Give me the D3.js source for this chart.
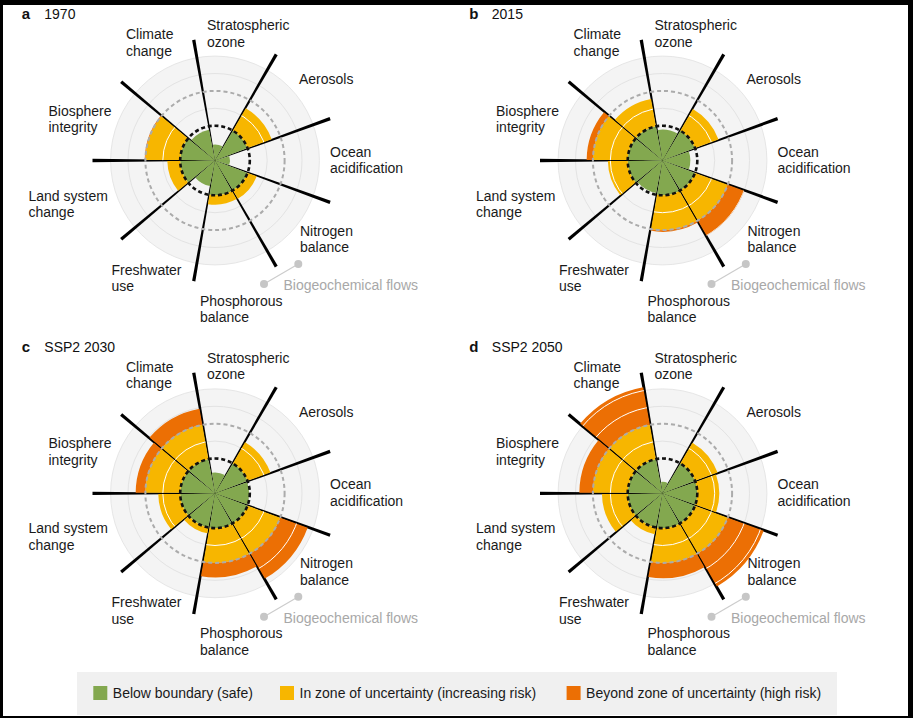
<!DOCTYPE html>
<html><head><meta charset="utf-8">
<script src="https://cdn.jsdelivr.net/npm/d3@7"></script>
<style>body{margin:0;background:#fff}svg{display:block}text{font-family:"Liberation Sans",Arial,Helvetica,sans-serif}</style>
</head><body>
<script>
// ---- data ----
const categories = ["Stratospheric ozone","Aerosols","Ocean acidification","Nitrogen balance","Phosphorous balance","Freshwater use","Land system change","Biosphere integrity","Climate change"];
const categoryLines = [["Stratospheric","ozone"],["Aerosols"],["Ocean","acidification"],["Nitrogen","balance"],["Phosphorous","balance"],["Freshwater","use"],["Land system","change"],["Biosphere","integrity"],["Climate","change"]];
const panelLetters = ["a","b","c","d"];
const panelTitles = ["1970","2015","SSP2 2030","SSP2 2050"];
// values normalised: 1 = boundary, 2 = upper end of zone of uncertainty
const values1970 = [0.46, 1.74, 0.43, 1.28, 1.27, 0.75, 1.37, 2.02, 0.90];
const values2015 = [0.89, 1.72, 0.80, 2.50, 2.05, 0.95, 1.57, 2.18, 1.80];
const values2030 = [0.60, 1.70, 0.98, 2.84, 2.42, 1.17, 1.63, 2.28, 2.47];
const values2050 = [0.33, 1.69, 1.63, 3.10, 2.44, 1.20, 1.74, 2.39, 3.10];
const seriesValues = [values1970, values2015, values2030, values2050];
const legendLabels = ["Below boundary (safe)","In zone of uncertainty (increasing risk)","Beyond zone of uncertainty (high risk)"];
const annotationLabel = "Biogeochemical flows";

// ---- layout ----
const W = 913, H = 718;
const colors = ["#83a84f","#f7b600","#ec6f04"];
const centers = [[215,160.5],[662.5,160.5],[215,493.3],[662.5,493.3]];
const labelPos = [[-8,-130.5],[84,-76.5],[115,-4],[85,75],[-15,145],[-103.5,114],[-186.5,40],[-166.5,-45],[-89,-121.5]];
const lineH = 16.6;

const svg = d3.select("body").append("svg").attr("width",W).attr("height",H);
svg.append("rect").attr("width",W).attr("height",H).attr("fill","#000");
svg.append("rect").attr("x",3).attr("y",5).attr("width",905).attr("height",711).attr("fill","#fff");

const r = d3.scaleLinear().domain([0,3]).range([0,104.4]);
const ang = d3.scaleLinear().domain([0,categories.length]).range([-10*Math.PI/180, 350*Math.PI/180]);

seriesValues.forEach((vals, p) => {
  const [cx, cy] = centers[p];
  const g = svg.append("g").attr("transform",`translate(${cx},${cy})`);
  // background disc and rings
  g.append("circle").attr("r", r(3)).attr("fill","#f4f4f4").attr("stroke","#e6e6e6").attr("stroke-width",1);
  [1.5,2.5].forEach(t => g.append("circle").attr("r", r(t)).attr("fill","none").attr("stroke","#e3e3e3").attr("stroke-width",1));
  // radial separator lines (tapered)
  d3.range(categories.length).forEach(k => {
    const a = ang(k), L = r(3.52);
    const ux = Math.sin(a), uy = -Math.cos(a), px = -uy, py = ux;
    const w0 = 0.35, w1 = 1.65;
    const pts = [[px*w0, py*w0],[L*ux + px*w1, L*uy + py*w1],[L*ux - px*w1, L*uy - py*w1],[-px*w0, -py*w0]];
    g.append("path").attr("d", d3.line()(pts) + "Z").attr("fill","#000");
  });
  // wedges
  const arc = d3.arc().padAngle(0.012).padRadius(100);
  const bands = [];
  vals.forEach((v,i) => {
    bands.push({i, from:0, to:Math.min(v,1), c:0});
    if (v > 1) bands.push({i, from:1, to:Math.min(v,2), c:1});
    if (v > 2) bands.push({i, from:2, to:v, c:2});
  });
  g.selectAll("path.band").data(bands).join("path").attr("class","band")
    .attr("d", d => arc({innerRadius:r(d.from), outerRadius:r(d.to), startAngle:ang(d.i), endAngle:ang(d.i+1)}))
    .attr("fill", d => colors[d.c]);
  // white rings within data
  const clipId = "clip"+p;
  g.append("clipPath").attr("id",clipId).selectAll("path").data(vals).join("path")
    .attr("d",(v,i) => arc({innerRadius:0, outerRadius:r(v), startAngle:ang(i), endAngle:ang(i+1)}));
  const wr = g.append("g").attr("clip-path",`url(#${clipId})`);
  [1.5,2.5,3].forEach(t => wr.append("circle").attr("r", r(t)).attr("fill","none").attr("stroke","#fff").attr("stroke-width",1));
  // dashed circles
  g.append("circle").attr("r", r(2)).attr("fill","none").attr("stroke","#ababab").attr("stroke-width",2).attr("stroke-dasharray","4,3");
  g.append("circle").attr("r", r(1)).attr("fill","none").attr("stroke","#111").attr("stroke-width",2.6).attr("stroke-dasharray","4,2.8");
  // labels
  categoryLines.forEach((lines,i) => {
    const t = g.append("text").attr("x",labelPos[i][0]).attr("y",labelPos[i][1])
      .attr("font-size",14).attr("fill","#1a1a1a");
    lines.forEach((s,j) => t.append("tspan").attr("x",labelPos[i][0]).attr("dy", j===0?0:lineH).text(s));
  });
  // annotation
  g.append("line").attr("x1",49).attr("y1",123.5).attr("x2",83.3).attr("y2",103.5).attr("stroke","#cccccc").attr("stroke-width",1.2);
  g.append("circle").attr("cx",83.3).attr("cy",103.5).attr("r",4).attr("fill","#c6c6c6");
  g.append("circle").attr("cx",49).attr("cy",123.5).attr("r",4).attr("fill","#c6c6c6");
  g.append("text").attr("x",68.5).attr("y",129.5).attr("font-size",14).attr("fill","#a8a8a8").text(annotationLabel);
  // title
  const tx = cx - 193.3, ty = cy - 141.2;
  svg.append("text").attr("x",tx).attr("y",ty).attr("font-size",15).attr("font-weight","bold").attr("fill","#111").text(panelLetters[p]);
  svg.append("text").attr("x",tx+22.6).attr("y",ty).attr("font-size",14).attr("fill","#111").text(panelTitles[p]);
});

// legend
const lg = svg.append("g");
lg.append("rect").attr("x",77).attr("y",672).attr("width",760).attr("height",43).attr("fill","#f0f0f0");
const legX = [93.3, 280, 566.6];
legendLabels.forEach((s,i) => {
  lg.append("rect").attr("x",legX[i]).attr("y",686).attr("width",14).attr("height",14).attr("fill",colors[i]);
  lg.append("text").attr("x",legX[i]+19.5).attr("y",698).attr("font-size",14).attr("fill","#1a1a1a").text(s);
});
</script>
</body></html>
